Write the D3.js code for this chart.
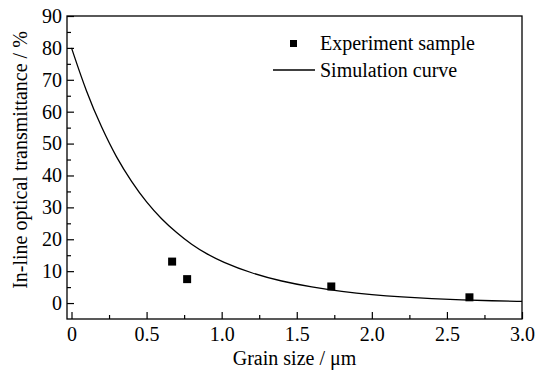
<!DOCTYPE html>
<html>
<head>
<meta charset="utf-8">
<script src="https://cdn.jsdelivr.net/npm/d3@7"></script>
<style>
  body { margin: 0; background: #fff; }
  svg text { fill: #000; }
</style>
</head>
<body>
<svg id="chart"></svg>
<script>
// experiment points
const sampleSize = [0.67, 0.77, 1.73, 2.65];
const sampleTrans = [13.0, 7.5, 5.2, 1.8];

// simulation curve
const curveSize = [0, 0.1, 0.2, 0.3, 0.4, 0.5, 0.6, 0.7, 0.8, 0.9, 1.0, 1.2, 1.4, 1.6, 1.8, 2.0, 2.2, 2.4, 2.6, 2.8, 3.0];
const curveTrans = [80, 66, 55, 45.5, 38, 31.5, 26.3, 22, 18.3, 15.4, 13, 9.3, 6.8, 5, 3.6, 2.6, 1.9, 1.4, 1.0, 0.7, 0.5];

const xTicks = [0, 0.5, 1.0, 1.5, 2.0, 2.5, 3.0];
const yTicks = [0, 10, 20, 30, 40, 50, 60, 70, 80, 90];

const width = 539, height = 372;
const margin = {top: 16, right: 17, bottom: 53, left: 67};
const w = width - margin.left - margin.right;
const h = height - margin.top - margin.bottom;
const serif = "Liberation Serif";

const svg = d3.select("#chart").attr("width", width).attr("height", height);
const g = svg.append("g").attr("transform", `translate(${margin.left},${margin.top})`);

const x = d3.scaleLinear().domain([-0.03, 3.0]).range([0, w]);
const y = d3.scaleLinear().domain([-5, 90]).range([h, 0]);

// minor ticks
const xMinor = d3.range(0.25, 3.0, 0.5);
const yMinor = d3.range(5, 90, 10);

g.append("g").attr("transform", `translate(0,${h})`)
  .call(d3.axisBottom(x).tickValues(xMinor).tickSize(-4).tickFormat(""))
  .call(a => a.select(".domain").remove());
g.append("g")
  .call(d3.axisLeft(y).tickValues(yMinor).tickSize(-4).tickFormat(""))
  .call(a => a.select(".domain").remove());

const xAxisG = g.append("g").attr("transform", `translate(0,${h})`)
  .call(d3.axisBottom(x).tickValues(xTicks).tickSize(-7).tickPadding(8)
    .tickFormat(d => d === 0 ? "0" : d3.format(".1f")(d)));
xAxisG.select(".domain").remove();

const yAxisG = g.append("g")
  .call(d3.axisLeft(y).tickValues(yTicks).tickSize(-7).tickPadding(5));
yAxisG.select(".domain").remove();

g.selectAll(".tick line").attr("stroke", "#000").attr("stroke-width", 1.2);

// frame
g.append("rect").attr("width", w).attr("height", h)
  .attr("fill", "none").attr("stroke", "#000").attr("stroke-width", 1.3);

// curve
const line = d3.line().curve(d3.curveBasis)
  .x((d, i) => x(curveSize[i])).y(d => y(d));
g.append("path").datum(curveTrans)
  .attr("d", line).attr("fill", "none").attr("stroke", "#000").attr("stroke-width", 1.3);

// points
const sq = 8;
g.selectAll(".pt").data(sampleTrans).join("rect")
  .attr("class", "pt")
  .attr("x", (d, i) => x(sampleSize[i]) - sq / 2)
  .attr("y", d => y(d) - sq / 2)
  .attr("width", sq).attr("height", sq).attr("fill", "#000");

// legend
const lg = svg.append("g");
lg.append("rect").attr("x", 290).attr("y", 40).attr("width", 7).attr("height", 7).attr("fill", "#000");
lg.append("text").attr("x", 320).attr("y", 50).text("Experiment sample");
lg.append("line").attr("x1", 273).attr("x2", 315).attr("y1", 70).attr("y2", 70)
  .attr("stroke", "#000").attr("stroke-width", 1.3);
lg.append("text").attr("x", 320).attr("y", 77).text("Simulation curve");

// axis titles
svg.append("text").attr("class", "title").attr("x", margin.left + w / 2).attr("y", 365)
  .attr("text-anchor", "middle").text("Grain size / μm");
svg.append("text").attr("class", "title").attr("transform", `translate(27,160) rotate(-90)`)
  .attr("text-anchor", "middle").text("In-line optical transmittance / %");

svg.selectAll("text").style("font-family", serif).style("font-size", "20px");
svg.selectAll("g").attr("font-family", null);
</script>
</body>
</html>
